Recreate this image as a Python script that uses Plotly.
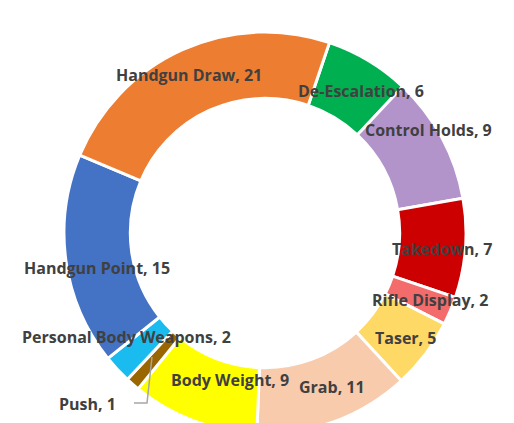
import math
import plotly.graph_objects as go

# Dados (ordem no sentido horário, começando no topo)
categorias = ["De-Escalation", "Control Holds", "Takedown", "Rifle Display", "Taser",
              "Grab", "Body Weight", "Push", "Personal Body Weapons", "Handgun Point",
              "Handgun Draw"]
valores = [6, 9, 7, 2, 5, 11, 9, 1, 2, 15, 21]
cores = ["#00B050", "#B294CB", "#CC0000", "#F46B6B", "#FFD966",
         "#F8CBAD", "#FFFF00", "#996600", "#1ABCEF", "#4472C4",
         "#ED7D31"]

W, H = 514, 445
cx, cy, R = 265, 233, 201      # centro e raio em pixels
rotacao = 18.7
buraco = 0.67

# ajustes finos dos rótulos (px) em relação ao meio do anel
ajustes = {
    "De-Escalation": (10, 2),
    "Control Holds": (16, -23),
    "Takedown": (10, 3),
    "Rifle Display": (10, 2),
    "Taser": (7, 4),
    "Grab": (9, -4),
    "Body Weight": (24, -10),
    "Push": (0, 0),
    "Personal Body Weapons": (-15, -10),
    "Handgun Point": (-2, 12),
    "Handgun Draw": (-7, -5),
}

fig = go.Figure()

fig.add_trace(go.Pie(
    labels=categorias,
    values=valores,
    sort=False,
    direction="clockwise",
    rotation=rotacao,
    hole=buraco,
    textinfo="none",
    hoverinfo="label+value",
    marker=dict(colors=cores, line=dict(color="white", width=3)),
    domain=dict(x=[(cx - R) / W, (cx + R) / W], y=[(H - cy - R) / H, (H - cy + R) / H]),
    showlegend=False,
))

# rótulos no meio do anel
total = sum(valores)
r_meio = R * (1 + buraco) / 2
acum = 0
anotacoes = []
for cat, v in zip(categorias, valores):
    ang = math.radians(rotacao + (acum + v / 2) / total * 360)
    acum += v
    px = cx + r_meio * math.sin(ang)
    py = cy - r_meio * math.cos(ang)
    if cat == "Push":
        px, py = 87, 404
    dx, dy = ajustes[cat]
    anotacoes.append(dict(
        x=(px + dx) / W, y=1 - (py + dy) / H, xref="paper", yref="paper",
        xanchor="center", yanchor="middle",
        text=f"{cat}, {v}", showarrow=False,
        font=dict(family="Open Sans", size=16, color="#404040", weight="bold"),
    ))

fig.update_layout(
    width=W, height=H,
    margin=dict(l=0, r=0, t=0, b=0),
    paper_bgcolor="white",
    annotations=anotacoes,
    shapes=[dict(
        type="path", xref="paper", yref="paper",
        path=f"M {152 / W} {1 - 357 / H} L {147 / W} {1 - 403 / H} L {134 / W} {1 - 403 / H}",
        line=dict(color="#A6A6A6", width=1.5),
    )],
)

fig.write_html(
    "out.html",
    config={"displayModeBar": False},
    post_script="document.documentElement.style.overflow='hidden';"
                "document.body.style.overflow='hidden';document.body.style.margin='0';",
)
